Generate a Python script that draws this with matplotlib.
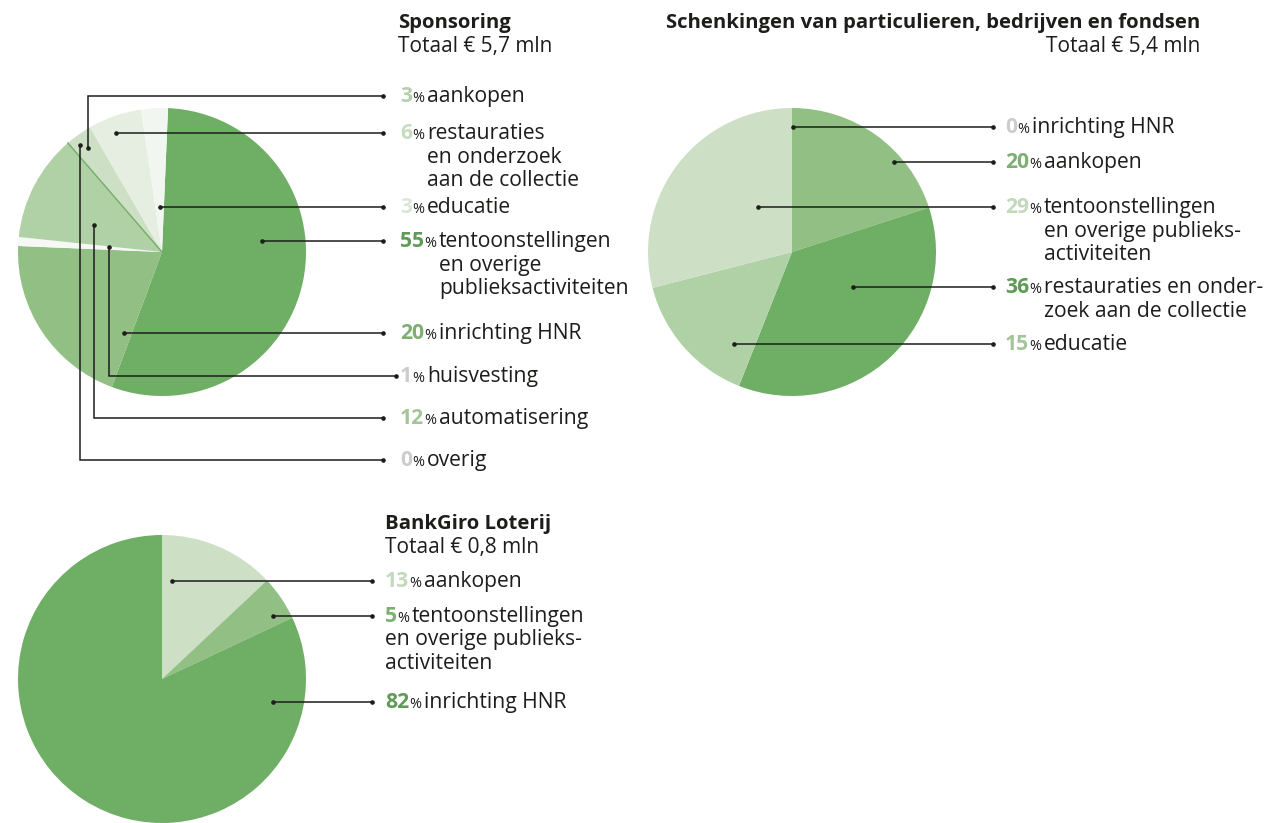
import numpy as np
import matplotlib.pyplot as plt

# figure in pixel units
W, H = 1271, 823
R = 144

BODY = ['Open Sans', 'DejaVu Sans']
INK = '#1d1d1b'

### SPONSORING (Totaal 5,7 mln) - legend order ###
spons_text = [["aankopen"],
              ["restauraties", "en onderzoek", "aan de collectie"],
              ["educatie"],
              ["tentoonstellingen", "en overige", "publieksactiviteiten"],
              ["inrichting HNR"],
              ["huisvesting"],
              ["automatisering"],
              ["overig"]]
spons_pct = [3, 6, 3, 55, 20, 1, 12, 0]
spons_fill = ['#cde0c6', '#e5eee1', '#f2f6f0', '#6fae65', '#91bf84', '#f5f8f4', '#b0d1a6', '#6fae65']
spons_num = ['#b6cfae', '#c8dbc1', '#dbe6d6', '#5e9b55', '#7daf72', '#cccccc', '#a3c698', '#cccccc']
spons_order = [3, 4, 5, 6, 7, 0, 1, 2]   # clockwise from the top

### SCHENKINGEN (Totaal 5,4 mln) ###
schenk_text = [["inrichting HNR"],
               ["aankopen"],
               ["tentoonstellingen", "en overige publieks-", "activiteiten"],
               ["restauraties en onder-", "zoek aan de collectie"],
               ["educatie"]]
schenk_pct = [0, 20, 29, 36, 15]
schenk_fill = ['#91bf84', '#91bf84', '#cde0c6', '#6fae65', '#b0d1a6']
schenk_num = ['#cccccc', '#7daf72', '#c3d8bc', '#5e9b55', '#a3c698']
schenk_order = [0, 1, 3, 4, 2]

### BANKGIRO LOTERIJ (Totaal 0,8 mln) ###
bgl_text = [["aankopen"],
            ["tentoonstellingen", "en overige publieks-", "activiteiten"],
            ["inrichting HNR"]]
bgl_pct = [13, 5, 82]
bgl_fill = ['#cde0c6', '#91bf84', '#6fae65']
bgl_num = ['#c3d8bc', '#7daf72', '#5e9b55']
bgl_order = [0, 1, 2]

fig = plt.figure(figsize=(W / 100, H / 100), dpi=100)
ax = fig.add_axes([0, 0, 1, 1])
renderer = fig.canvas.get_renderer()


def Y(y):
    # pixel row (top down) -> data y
    return H - y


def draw_pie(cx, cy, pct, order, fills, start):
    vals = [pct[i] for i in order]
    cols = [fills[i] for i in order]
    ax.pie(vals, colors=cols, center=(cx, Y(cy)), radius=R, startangle=start,
           counterclock=False, frame=True, wedgeprops=dict(linewidth=0))
    # zero-size slices drawn as a thin line on their boundary
    cum = 0
    for i in order:
        if pct[i] == 0 and fills[i] == '#6fae65':
            ang = np.radians(start - cum * 3.6)
            ax.plot([cx, cx + R * np.cos(ang)], [Y(cy), Y(cy) + R * np.sin(ang)],
                    color=fills[i], lw=1.0, zorder=3)
        cum += pct[i]


def leader(cx, cy, d, ly, xend):
    px, py = cx + d[0], cy + d[1]
    if abs(py - ly) < 2:
        xs, ys = [px, xend], [ly, ly]
    else:
        xs, ys = [px, px, xend], [py, ly, ly]
    ax.plot(xs, [Y(v) for v in ys], color=INK, lw=1.1, zorder=4,
            solid_joinstyle='miter')
    ax.plot([xs[0], xs[-1]], [Y(ys[0]), Y(ys[-1])], 'o', ms=2.3, color=INK, zorder=5)


def label(x, ly, pct, color, lines, indent=True, size=15.2):
    base = ly + 6
    t = ax.text(x, Y(base), str(pct), fontsize=size, fontweight='bold', color=color,
                family=BODY, va='baseline')
    w1 = t.get_window_extent(renderer).width
    t2 = ax.text(x + w1, Y(base), '%', fontsize=size * 0.68, color=INK,
                 family=BODY, va='baseline')
    w2 = t2.get_window_extent(renderer).width
    tx = x + w1 + w2 + 3
    for k, line in enumerate(lines):
        lx = tx if (k == 0 or indent) else x
        ax.text(lx, Y(base + k * 23.5), line, fontsize=size, color=INK,
                family=BODY, va='baseline')


def title(x, y, name, total, ha='left'):
    ax.text(x, Y(y), name, fontsize=14.6, fontweight='bold', color=INK,
            family=BODY, va='baseline', ha=ha)
    ax.text(x, Y(y + 24), total, fontsize=15, color=INK,
            family=BODY, va='baseline', ha=ha)


# Sponsoring
draw_pie(162, 252, spons_pct, spons_order, spons_fill, 87.6)
spons_anchor = [(-74, -104), (-46, -119), (-2, -45), (100, -11), (-38, 81),
                (-53, -5), (-68, -27), (-82, -107)]
spons_ly = [96, 133, 207, 241, 333, 376, 418, 460]
for i in range(len(spons_pct)):
    xend = 396 if spons_pct[i] == 1 else 383
    leader(162, 252, spons_anchor[i], spons_ly[i], xend)
    label(400, spons_ly[i], spons_pct[i], spons_num[i], spons_text[i])
title(398, 28, "Sponsoring", "Totaal € 5,7 mln")

# Schenkingen
draw_pie(792, 252, schenk_pct, schenk_order, schenk_fill, 90)
schenk_anchor = [(1, -125), (102, -90), (-34, -45), (61, 35), (-58, 92)]
schenk_ly = [127, 162, 207, 287, 344]
for i in range(len(schenk_pct)):
    leader(792, 252, schenk_anchor[i], schenk_ly[i], 993)
    label(1005, schenk_ly[i], schenk_pct[i], schenk_num[i], schenk_text[i])
title(1200, 28, "Schenkingen van particulieren, bedrijven en fondsen",
      "Totaal € 5,4 mln", ha='right')

# BankGiro Loterij
draw_pie(162, 679, bgl_pct, bgl_order, bgl_fill, 90)
bgl_anchor = [(10, -98), (111, -63), (111, 23)]
bgl_ly = [581, 616, 702]
for i in range(len(bgl_pct)):
    leader(162, 679, bgl_anchor[i], bgl_ly[i], 372)
    label(385, bgl_ly[i], bgl_pct[i], bgl_num[i], bgl_text[i], indent=False)
title(385, 529, "BankGiro Loterij", "Totaal € 0,8 mln")

ax.set_xlim(0, W)
ax.set_ylim(0, H)
ax.set_aspect('equal')
ax.axis('off')

fig.savefig("out.png", dpi=100)
